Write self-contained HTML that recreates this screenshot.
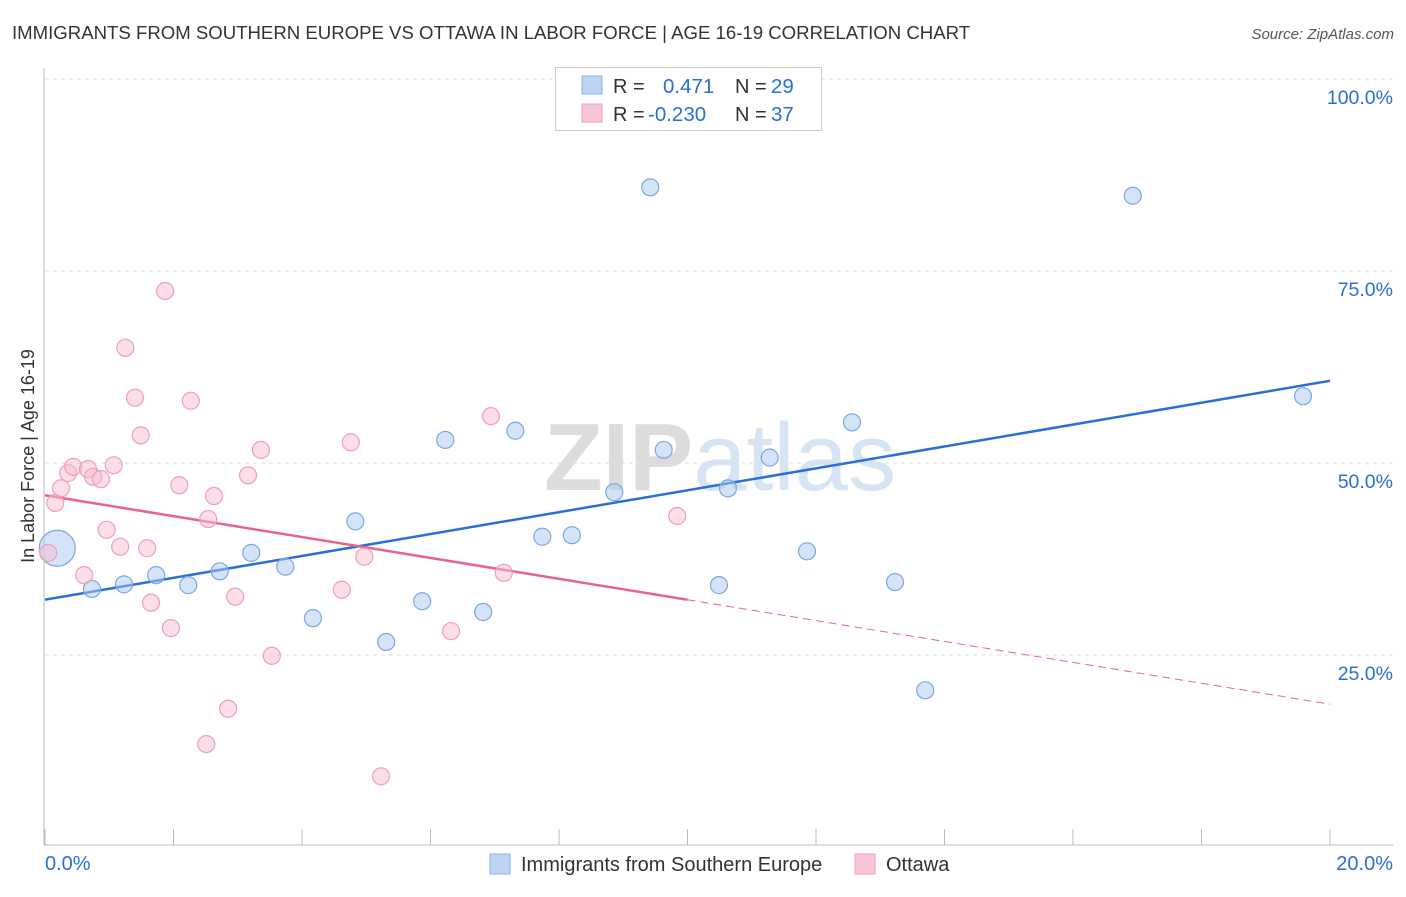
<!DOCTYPE html>
<html><head><meta charset="utf-8"><style>
body{margin:0;background:#fff;font-family:"Liberation Sans",sans-serif;}
svg text{font-family:"Liberation Sans",sans-serif;}
</style></head><body>
<svg id="c" width="1406" height="892" xmlns="http://www.w3.org/2000/svg">
<text x="12" y="39" font-size="18.6" fill="#333">IMMIGRANTS FROM SOUTHERN EUROPE VS OTTAWA IN LABOR FORCE | AGE 16-19 CORRELATION CHART</text>
<text x="1394" y="39" font-size="15" fill="#555" font-style="italic" text-anchor="end">Source: ZipAtlas.com</text>
<text x="720" y="490" font-size="96" fill="#e4e4e4" text-anchor="middle" font-family="Liberation Serif"><tspan font-weight="bold" fill="#dcdcdc">ZIP</tspan><tspan fill="#d6e4f4" font-family="Liberation Sans">atlas</tspan></text>
<g id="grid"></g><g id="axes"></g><g id="lines"></g><g id="pts"></g>
<text transform="translate(34,456) rotate(-90)" font-size="18" fill="#333" text-anchor="middle">In Labor Force | Age 16-19</text>
<g>
<rect x="555.500" y="67.500" width="266" height="63" fill="#fff" stroke="#ccc"/>
<rect x="582" y="76" width="20" height="18" fill="#bcd5f5" stroke="#8ab2e8"/>
<rect x="582" y="104" width="20" height="18" fill="#f9c6d5" stroke="#eea1b8"/>
<text x="613" y="93" font-size="20" fill="#333">R = </text><text x="663" y="93" font-size="20.5" fill="#2a6fd6">0.471</text>
<text x="735" y="93" font-size="20" fill="#333">N = </text><text x="771" y="93" font-size="20.5" fill="#2a6fd6">29</text>
<text x="613" y="121" font-size="20" fill="#333">R = </text><text x="648" y="121" font-size="20.5" fill="#2a6fd6">-0.230</text>
<text x="735" y="121" font-size="20" fill="#333">N = </text><text x="771" y="121" font-size="20.5" fill="#2a6fd6">37</text>
</g>
<g>
<rect x="490" y="854" width="20" height="20" fill="#bcd5f5" stroke="#8ab2e8"/>
<text x="521" y="871" font-size="20" fill="#333">Immigrants from Southern Europe</text>
<rect x="855" y="854" width="20" height="20" fill="#f9c6d5" stroke="#eea1b8"/>
<text x="886" y="871" font-size="20" fill="#333">Ottawa</text>
</g>
</svg>
<script>
const blueX=[0.19,0.73,1.23,1.73,2.23,2.72,3.21,3.74,4.17,4.83,5.31,5.87,6.23,6.82,7.32,7.74,8.20,8.86,9.42,9.63,10.49,10.63,11.28,11.86,12.56,13.23,13.70,16.93,19.58];
const blueY=[38.9,33.6,34.2,35.4,34.1,35.9,38.3,36.5,29.8,42.4,26.7,32.0,53.0,30.6,54.2,40.4,40.6,46.2,85.9,51.7,34.1,46.7,50.7,38.5,55.3,34.5,20.4,84.8,58.7];
const pinkX=[0.05,0.16,0.25,0.36,0.44,0.67,0.75,0.87,0.61,0.96,1.07,1.17,1.25,1.40,1.49,1.59,1.65,1.87,1.96,2.09,2.27,2.54,2.51,2.63,2.85,2.96,3.16,3.36,3.53,4.62,4.76,4.97,5.23,6.32,6.94,7.14,9.84];
const pinkY=[38.3,44.8,46.7,48.7,49.5,49.2,48.2,47.9,35.4,41.3,49.7,39.1,65.0,58.5,53.6,38.9,31.8,72.4,28.5,47.1,58.1,42.7,13.4,45.7,18.0,32.6,48.4,51.7,24.9,33.5,52.7,37.8,9.2,28.1,56.1,35.7,43.1];
const blueTrend=[32.2,60.7];
const pinkTrend=[45.8,18.6];
const yTicks=[25,50,75,100];
const yTickLabels=["25.0%","50.0%","75.0%","100.0%"];
const xTicks=[0,2,4,6,8,10,12,14,16,18,20];
const NS="http://www.w3.org/2000/svg";
const sx=v=>45+v/20*1285, sy=v=>847-v*7.68;
function mk(p,t,a){const e=document.createElementNS(NS,t);for(const k in a)e.setAttribute(k,a[k]);p.appendChild(e);return e;}
const grid=document.getElementById('grid'),axes=document.getElementById('axes'),lines=document.getElementById('lines'),pts=document.getElementById('pts');
yTicks.forEach((v,i)=>{
 const l=mk(grid,'line',{x1:45,x2:1393,y1:sy(v),y2:sy(v),stroke:'#ddd','stroke-dasharray':'4,4'});
 
 
 const t=mk(axes,'text',{x:1393,y:sy(v)+25,'font-size':19.5,fill:'#2a6fd6','text-anchor':'end'});
 t.textContent=yTickLabels[i];
 
 
});
const ax=mk(axes,'line',{x1:44,x2:44,y1:68,y2:845,stroke:'#bbb'});


const bx=mk(axes,'line',{x1:44,x2:1393,y1:845,y2:845,stroke:'#bbb'});


xTicks.forEach(v=>{const t=mk(axes,'line',{x1:sx(v),x2:sx(v),y1:829,y2:845,stroke:'#bbb'});
 
 });
const xl0=mk(axes,'text',{x:45,y:870,'font-size':20,fill:'#2a6fd6'});xl0.textContent='0.0%';


const xl1=mk(axes,'text',{x:1393,y:870,'font-size':20,fill:'#2a6fd6','text-anchor':'end'});xl1.textContent='20.0%';


function dot(x,y,r,f,s,n){const c=mk(pts,'circle',{cx:sx(x),cy:sy(y),r:r,fill:f,stroke:s,'stroke-width':1.2});
 
 }
blueX.forEach((x,i)=>dot(x,blueY[i],i===0?18:8.5,'rgba(170,200,240,0.5)','#7aa7e3','point-immigrants'));
pinkX.forEach((x,i)=>dot(x,pinkY[i],8.5,'rgba(248,190,208,0.5)','#eea0b8','point-ottawa'));
const bl=mk(lines,'line',{x1:sx(0),y1:sy(blueTrend[0]),x2:sx(20),y2:sy(blueTrend[1]),stroke:'#2a6fd6','stroke-width':2.5});


const pm=pinkTrend[0]+(pinkTrend[1]-pinkTrend[0])*0.5;
const pl=mk(lines,'line',{x1:sx(0),y1:sy(pinkTrend[0]),x2:sx(10),y2:sy(pm),stroke:'#e8638e','stroke-width':2.5});


const pd=mk(lines,'line',{x1:sx(10),y1:sy(pm),x2:sx(20),y2:sy(pinkTrend[1]),stroke:'#e8638e','stroke-width':1,'stroke-dasharray':'8,5'});


</script>
</body></html>
